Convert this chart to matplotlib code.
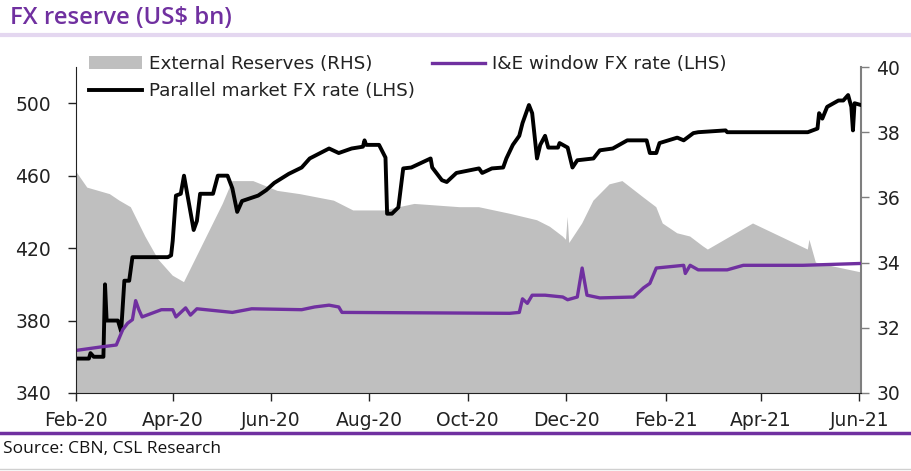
import matplotlib
matplotlib.use('Agg')
import matplotlib.pyplot as plt
import matplotlib.dates as mdates
import numpy as np
import pandas as pd

# parallel market FX rate (LHS), N/$
par_dates = ["2020-02-01", "2020-02-09", "2020-02-10", "2020-02-12", "2020-02-18", "2020-02-19",
             "2020-02-20", "2020-02-27", "2020-02-29", "2020-03-02", "2020-03-05", "2020-03-07",
             "2020-03-29", "2020-03-31", "2020-04-01", "2020-04-03", "2020-04-06", "2020-04-08",
             "2020-04-10", "2020-04-14", "2020-04-16", "2020-04-18", "2020-04-26", "2020-04-29",
             "2020-05-05", "2020-05-08", "2020-05-11", "2020-05-14", "2020-05-19", "2020-05-24",
             "2020-05-29", "2020-06-03", "2020-06-12", "2020-06-20", "2020-06-25", "2020-07-07",
             "2020-07-13", "2020-07-21", "2020-07-28", "2020-07-29", "2020-07-30", "2020-08-07",
             "2020-08-11", "2020-08-12", "2020-08-15", "2020-08-19", "2020-08-22", "2020-08-27",
             "2020-09-02", "2020-09-08", "2020-09-09", "2020-09-15", "2020-09-18", "2020-09-24",
             "2020-10-08", "2020-10-10", "2020-10-16", "2020-10-23", "2020-10-25", "2020-10-29",
             "2020-11-02", "2020-11-04", "2020-11-08", "2020-11-10", "2020-11-13", "2020-11-15",
             "2020-11-18", "2020-11-20", "2020-11-26", "2020-11-27", "2020-12-02", "2020-12-05",
             "2020-12-08", "2020-12-18", "2020-12-22", "2020-12-30", "2021-01-03", "2021-01-08",
             "2021-01-20", "2021-01-22", "2021-01-26", "2021-01-28", "2021-02-08", "2021-02-12",
             "2021-02-18", "2021-02-21", "2021-03-10", "2021-03-11", "2021-04-30", "2021-05-06",
             "2021-05-07", "2021-05-09", "2021-05-12", "2021-05-19", "2021-05-22", "2021-05-25",
             "2021-05-27", "2021-05-28", "2021-05-29", "2021-06-02"]
par_vals = [359, 359, 362, 360, 360, 400,
            380, 380, 374, 402, 402, 415,
            415, 416, 424, 449, 450, 460,
            450, 430, 435, 450, 450, 460,
            460, 453, 440, 446, 447.5, 449,
            452, 456, 461, 464.5, 469.5, 475,
            472.5, 475, 476, 479.5, 477, 477,
            470, 439, 439, 442.5, 464, 464.5,
            467, 469.5, 464.5, 457.5, 456.5, 461.5,
            464, 461.5, 464, 464.5, 469.5, 477,
            482, 489, 499, 494.5, 469.5, 477,
            482, 475.5, 475.5, 478, 475.5, 464.5,
            468.5, 469.5, 474, 475, 477, 479.5,
            479.5, 472.5, 472.5, 478, 481, 479.5,
            483.5, 484, 485, 484, 484, 486,
            494.5, 491.5, 498, 501.5, 501.5, 504.5,
            498, 485, 500, 499]

# I&E window FX rate (LHS), N/$
ie_dates = ["2020-02-01", "2020-02-17", "2020-02-26", "2020-03-01", "2020-03-04", "2020-03-07",
            "2020-03-09", "2020-03-11", "2020-03-13", "2020-03-19", "2020-03-25", "2020-04-01",
            "2020-04-03", "2020-04-09", "2020-04-12", "2020-04-16", "2020-05-08", "2020-05-20",
            "2020-06-20", "2020-06-28", "2020-07-07", "2020-07-13", "2020-07-15", "2020-10-27",
            "2020-11-02", "2020-11-04", "2020-11-07", "2020-11-10", "2020-11-18", "2020-11-29",
            "2020-12-02", "2020-12-08", "2020-12-11", "2020-12-14", "2020-12-22", "2021-01-12",
            "2021-01-18", "2021-01-22", "2021-01-26", "2021-02-12", "2021-02-13", "2021-02-16",
            "2021-02-21", "2021-03-11", "2021-03-21", "2021-04-27", "2021-06-01"]
ie_vals = [363.5, 365.5, 366.5, 375, 378.5, 380.5,
           391, 386, 382, 384, 386, 386,
           382, 387, 383, 386.5, 384.5, 386.5,
           386, 387.5, 388.5, 387.5, 384.5, 384,
           384.5, 392, 389.5, 394, 394, 393,
           391.5, 393, 409, 394, 392.5, 393,
           398, 400.5, 409, 410.5, 406, 410.5,
           408, 408, 410.5, 410.5, 411.5]

# external reserves (RHS), US$ bn
res_dates = ["2020-02-01", "2020-02-08", "2020-02-22", "2020-02-28", "2020-03-06", "2020-03-15",
             "2020-03-23", "2020-04-01", "2020-04-08", "2020-04-16", "2020-04-24", "2020-05-02",
             "2020-05-08", "2020-05-21", "2020-06-05", "2020-06-19", "2020-07-10", "2020-07-22",
             "2020-08-10", "2020-08-29", "2020-09-26", "2020-10-08", "2020-10-27", "2020-11-13",
             "2020-11-21", "2020-11-29", "2020-12-01", "2020-12-02", "2020-12-03", "2020-12-11",
             "2020-12-18", "2020-12-28", "2021-01-05", "2021-01-18", "2021-01-26", "2021-01-30",
             "2021-02-08", "2021-02-16", "2021-02-24", "2021-02-27", "2021-03-13", "2021-03-27",
             "2021-04-13", "2021-04-30", "2021-05-01", "2021-05-05", "2021-05-14", "2021-06-02"]
res_vals = [36.8, 36.3, 36.1, 35.9, 35.7, 34.8,
            34.1, 33.6, 33.4, 34.2, 35.0, 35.8,
            36.5, 36.5, 36.2, 36.1, 35.9, 35.6,
            35.6, 35.8, 35.7, 35.7, 35.5, 35.3,
            35.1, 34.8, 34.7, 35.4, 34.6, 35.2,
            35.9, 36.4, 36.5, 36.0, 35.7, 35.2,
            34.9, 34.8, 34.5, 34.4, 34.8, 35.2,
            34.8, 34.4, 34.7, 34.0, 33.9, 33.7]

purple = '#7030A0'

fig = plt.figure(figsize=(9.12, 4.71), dpi=100)
ax = fig.add_axes([76/912, 1-393/471, (861-76)/912, (393-67)/471])
ax2 = ax.twinx()
ax.set_zorder(ax2.get_zorder() + 1)
ax.patch.set_visible(False)

rd = pd.to_datetime(res_dates)
area = ax2.fill_between(rd, 0, res_vals, color='#BFBFBF', lw=0, label='External Reserves (RHS)')
l_par, = ax.plot(pd.to_datetime(par_dates), par_vals, color='black', lw=2.8,
                 label='Parallel market FX rate (LHS)')
l_ie, = ax.plot(pd.to_datetime(ie_dates), ie_vals, color=purple, lw=2.4,
                label='I&E window FX rate (LHS)')

ax.set_ylim(340, 520)
ax.set_yticks(np.arange(340, 501, 40))
ax2.set_ylim(30, 40)
ax2.set_yticks(np.arange(30, 41, 2))
ax.set_xlim(pd.Timestamp("2020-02-01"), pd.Timestamp("2021-06-02"))
ax.xaxis.set_major_locator(mdates.MonthLocator(bymonth=[2, 4, 6, 8, 10, 12]))
ax.xaxis.set_major_formatter(mdates.DateFormatter('%b-%y'))

for a in (ax, ax2):
    a.spines['top'].set_visible(False)
    a.tick_params(direction='out', length=6, width=1, labelsize=13.5, colors='#222222', pad=5)
ax.spines['left'].set_color('#222222')
ax.spines['bottom'].set_color('#222222')
ax.spines['right'].set_visible(False)
ax2.spines['left'].set_visible(False)
ax2.spines['bottom'].set_visible(False)
ax2.spines['right'].set_color('#7F7F7F')
ax2.spines['right'].set_linewidth(1.5)
ax2.tick_params(axis='y', colors='#7F7F7F', labelcolor='#222222', pad=5)
ax.tick_params(axis='y', pad=12)
ax.tick_params(axis='x', pad=7)

leg = fig.legend([area, l_par, l_ie],
                 ['External Reserves (RHS)', 'Parallel market FX rate (LHS)', 'I&E window FX rate (LHS)'],
                 ncol=2, loc='upper left', bbox_to_anchor=(89/912, 1-55/471), frameon=False,
                 fontsize=13.2, handlelength=2.9, handletextpad=0.35, columnspacing=0.95,
                 labelspacing=0.5, borderaxespad=0, borderpad=0)
for t in leg.get_texts():
    t.set_color('#222222')

fig.text(10/912, 1-18/471, r'FX reserve (US\$ bn)', color=purple, fontsize=17.2,
         family='Open Sans', weight='semibold', va='center', ha='left')
fig.add_artist(plt.Line2D([2/912, 1], [1-35/471, 1-35/471], color='#E4D7F0', lw=3))
fig.add_artist(plt.Line2D([0, 1], [1-433/471, 1-433/471], color=purple, lw=2.5))
fig.add_artist(plt.Line2D([0, 1], [1-469/471, 1-469/471], color='#D0D0D0', lw=1))
fig.text(3/912, 1-449/471, 'Source: CBN, CSL Research', color='#111111', fontsize=12.5,
         family='Open Sans', va='center', ha='left')

fig.savefig('out.png', dpi=100)
